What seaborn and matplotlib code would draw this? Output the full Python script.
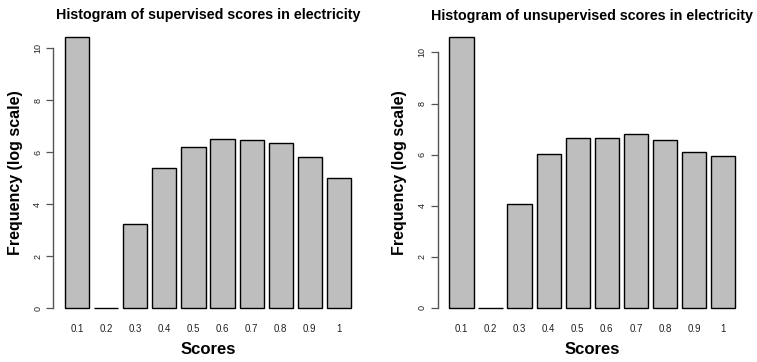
import matplotlib
matplotlib.use("Agg")
import matplotlib.pyplot as plt
import seaborn as sns
import pandas as pd

scores = ["0.1", "0.2", "0.3", "0.4", "0.5", "0.6", "0.7", "0.8", "0.9", "1"]
supervised = [10.45, 0.0, 3.23, 5.41, 6.20, 6.50, 6.46, 6.35, 5.83, 5.00]
unsupervised = [10.61, 0.0, 4.05, 6.01, 6.64, 6.64, 6.79, 6.56, 6.10, 5.96]
titles = ["Histogram of supervised scores in electricity",
          "Histogram of unsupervised scores in electricity"]
yticks = [0, 2, 4, 6, 8, 10]

sns.set_style("white")
plt.rcParams['font.family'] = ['Liberation Sans', 'DejaVu Sans']
plt.rcParams['text.color'] = 'black'
plt.rcParams['axes.labelcolor'] = 'black'

W, H = 757, 362
fig = plt.figure(figsize=(W / 100, H / 100), dpi=100)

# axes pixel boxes: (left, right, top, bottom)
boxes = [(53.4, 362.6, 25.7, 319.2), (437.7, 746.9, 26.0, 318.8)]

for (l, r, t, b), vals, title in zip(boxes, [supervised, unsupervised], titles):
    ax = fig.add_axes([l / W, 1 - b / H, (r - l) / W, (b - t) / H])
    df = pd.DataFrame({"score": scores, "freq": vals})
    sns.barplot(data=df, x="score", y="freq", ax=ax, color="#BEBEBE",
                saturation=1, width=1 / 1.2, edgecolor="black", linewidth=1.0)
    n = len(scores)
    left_edge = -(1 / 1.2) / 2
    right_edge = (n - 1) + (1 / 1.2) / 2
    pad = 0.04 * n
    ax.set_xlim(left_edge - pad, right_edge + pad)
    ymax = max(vals)
    ax.set_ylim(-0.04 * ymax, ymax * 1.04)
    for s in ["top", "right", "bottom"]:
        ax.spines[s].set_visible(False)
    ax.spines["left"].set_bounds(0, 10)
    ax.spines["left"].set_color("#555555")
    ax.spines["left"].set_linewidth(1.0)
    ax.set_yticks(yticks)
    ax.set_yticklabels([str(v) for v in yticks], rotation=90, va="center",
                       fontsize=6.5, color="#222222")
    ax.tick_params(axis="y", length=5, width=0.9, color="#555555", pad=3, left=True)
    ax.tick_params(axis="x", length=0, pad=3.5, labelsize=7, labelcolor="#222222")
    ax.set_xlabel("Scores", fontsize=12, fontweight="bold", labelpad=6, color="black")
    ax.set_ylabel("Frequency (log scale)", fontsize=11.5, fontweight="bold",
                  labelpad=7.5, color="black")
    ax.set_title(title, fontsize=10.3, fontweight="bold", pad=4.5, color="black")

fig.savefig("out.png", dpi=100)
